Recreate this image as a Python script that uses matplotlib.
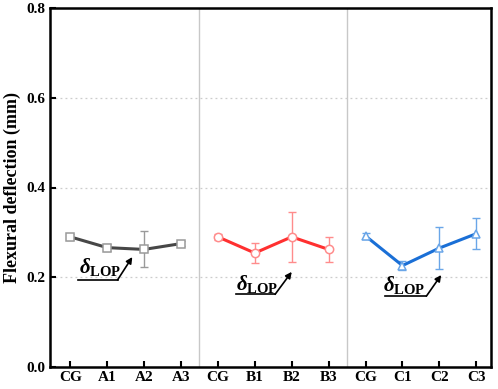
import numpy as np
import matplotlib
matplotlib.use("Agg")
import matplotlib.pyplot as plt

# data
labels = ["CG", "A1", "A2", "A3", "CG", "B1", "B2", "B3", "CG", "C1", "C2", "C3"]
a_vals = [0.290, 0.266, 0.262, 0.275]
a_errs = [0.006, 0.008, 0.040, 0.005]
b_vals = [0.290, 0.254, 0.290, 0.262]
b_errs = [0.006, 0.022, 0.055, 0.028]
c_vals = [0.292, 0.226, 0.265, 0.297]
c_errs = [0.006, 0.010, 0.047, 0.034]

plt.rcParams['font.family'] = ['Liberation Serif', 'DejaVu Serif']
plt.rcParams['mathtext.fontset'] = 'custom'
plt.rcParams['mathtext.it'] = 'Liberation Serif:italic:bold'
plt.rcParams['mathtext.bf'] = 'Liberation Serif:bold'
plt.rcParams['mathtext.rm'] = 'Liberation Serif:bold'

fig = plt.figure(figsize=(4.98, 3.89), dpi=100)
ax = fig.add_axes([50 / 498, 22 / 389, 441 / 498, 359 / 389])

x = np.arange(1, 13)

groups = [
    (x[0:4], a_vals, a_errs, '#474747', '#9a9a9a', 's', 5.5),
    (x[4:8], b_vals, b_errs, '#ff3030', '#ff8c8c', 'o', 6),
    (x[8:12], c_vals, c_errs, '#1a6fd6', '#6aa6e8', '^', 6),
]
for xs, vals, errs, lc, mc, mk, ms in groups:
    ax.plot(xs, vals, color=lc, lw=2.2, zorder=3)
    ax.errorbar(xs, vals, yerr=errs, fmt='none', ecolor=mc, elinewidth=1.0,
                capsize=3, capthick=1.0, zorder=2)
    ax.plot(xs, vals, linestyle='none', marker=mk, ms=ms, mfc='white',
            mec=mc, mew=1.1, zorder=4)

# group separators and dotted grid
for sx in [4.5, 8.5]:
    ax.axvline(sx, color='#c8c8c8', lw=1.0, zorder=1)
for gy in [0.2, 0.4, 0.6]:
    ax.axhline(gy, color='#cccccc', lw=0.9, ls=(0, (1.5, 2.5)), zorder=1)

# delta_LOP annotations
notes = [
    ((1.22, 0.194), (2.28, 0.194), (2.68, 0.245), (1.80, 0.222)),
    ((5.50, 0.162), (6.55, 0.162), (7.00, 0.212), (6.05, 0.186)),
    ((9.52, 0.158), (10.65, 0.158), (11.05, 0.205), (10.05, 0.183)),
]
for p0, p1, tip, tp in notes:
    ax.plot([p0[0], p1[0]], [p0[1], p1[1]], color='black', lw=1.2, zorder=5)
    ax.annotate('', xy=tip, xytext=p1,
                arrowprops=dict(arrowstyle='-|>', color='black', lw=1.2,
                                mutation_scale=9, shrinkA=0, shrinkB=0),
                zorder=5)
    ax.text(tp[0], tp[1], r'$\mathit{\delta}_{\mathbf{LOP}}$', fontsize=15,
            ha='center', va='center', zorder=5)

ax.set_xlim(0.45, 12.4)
ax.set_ylim(0.0, 0.8)
ax.set_xticks(x)
ax.set_xticklabels(labels, fontsize=11, fontweight='bold')
ax.set_yticks([0.0, 0.2, 0.4, 0.6, 0.8])
ax.set_yticklabels(['0.0', '0.2', '0.4', '0.6', '0.8'], fontsize=11,
                   fontweight='bold')
ax.tick_params(direction='in', width=1.5, length=4, pad=3)
ax.set_ylabel('Flexural deflection (mm)', fontsize=13, fontweight='bold',
              labelpad=4)
for s in ax.spines.values():
    s.set_linewidth(1.8)

fig.savefig('out.png', dpi=100)
